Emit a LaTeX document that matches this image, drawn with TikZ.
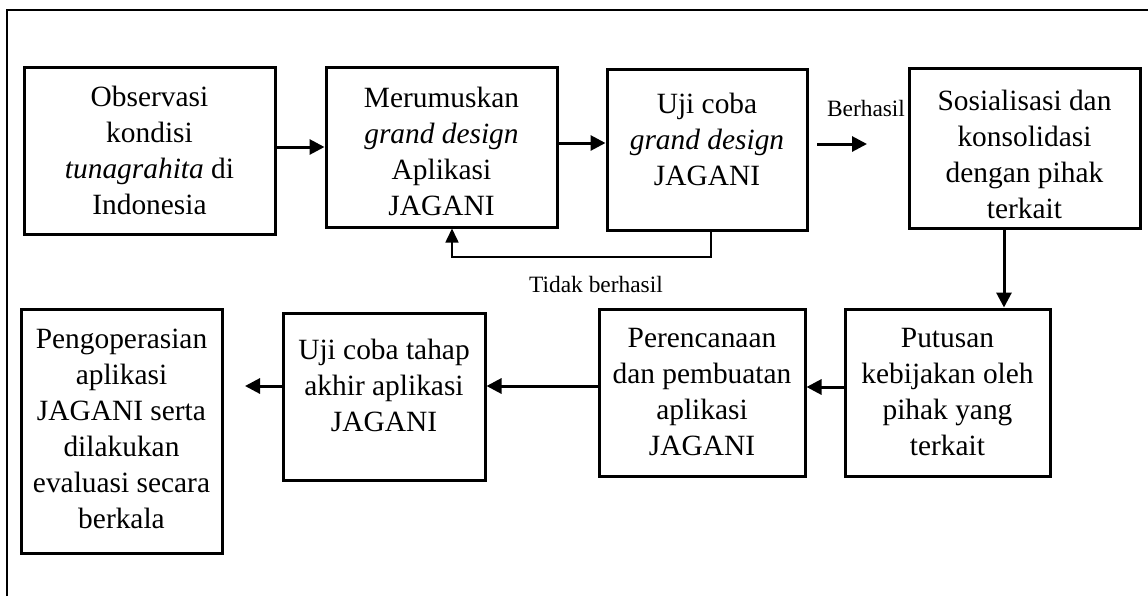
\documentclass[tikz,border=0pt]{standalone}
\usepackage{fontspec}
\setmainfont{Liberation Serif}
\usetikzlibrary{arrows.meta}
\begin{document}
\begin{tikzpicture}[x=0.5pt,y=-0.5pt,
 boxnode/.style={draw, line width=1.5pt, inner sep=0pt},
 txt/.style={align=center, font=\fontsize{14.7pt}{18pt}\selectfont, inner sep=0pt},
 lbl/.style={font=\fontsize{11.7pt}{14pt}\selectfont, inner sep=0pt},
 arr/.style={line width=1.5pt, -{Triangle[length=7.5pt,width=7.5pt]}},
 fb/.style={line width=0.8pt, -{Triangle[length=7pt,width=6.5pt]}},
 frame/.style={line width=1.2pt}]
\useasboundingbox (0,0) rectangle (1148,596);
\draw[frame] (7,596) -- (7,10) -- (1148,10);

% boxes
\node[boxnode, minimum width=125.5pt, minimum height=83.5pt] (b1) at (149.5,150.5) {};
\node[boxnode, minimum width=115.5pt, minimum height=80pt] (b2) at (441.5,147) {};
\node[boxnode, minimum width=100pt, minimum height=80.5pt] (b3) at (707,149.5) {};
\node[boxnode, minimum width=115.5pt, minimum height=80pt] (b4) at (1024.5,148) {};
\node[boxnode, minimum width=102.5pt, minimum height=83.5pt] (b5) at (947.5,392.5) {};
\node[boxnode, minimum width=103pt, minimum height=83.5pt] (b6) at (702,392.5) {};
\node[boxnode, minimum width=101pt, minimum height=83.5pt] (b7) at (384,396.5) {};
\node[boxnode, minimum width=100.5pt, minimum height=122pt] (b8) at (121.5,431) {};

% texts
\node[txt] (t1) at (149.5,150.5) {Observasi\\kondisi\\\textit{tunagrahita} di\\Indonesia};
\node[txt] (t2) at (441.5,151) {Merumuskan\\\textit{grand design}\\Aplikasi\\JAGANI};
\node[txt] (t3) at (707,139) {Uji coba\\\textit{grand design}\\JAGANI};
\node[txt] (t4) at (1024.5,154) {Sosialisasi dan\\konsolidasi\\dengan pihak\\terkait};
\node[txt] (t5) at (947.5,392) {Putusan\\kebijakan oleh\\pihak yang\\terkait};
\node[txt] (t6) at (702,392.5) {Perencanaan\\dan pembuatan\\aplikasi\\JAGANI};
\node[txt] (t7) at (384,385) {Uji coba tahap\\akhir aplikasi\\JAGANI};
\node[txt] (t8) at (121.5,428.5) {Pengoperasian\\aplikasi\\JAGANI serta\\dilakukan\\evaluasi secara\\berkala};

% labels
\node[lbl] (berhasil) at (866,108) {Berhasil};
\node[lbl] (tidak) at (596,284) {Tidak berhasil};

% helper coordinates
\coordinate (y143) at (0,143);
\coordinate (bs) at (817,144);
\coordinate (be) at (867,144);
\coordinate (x1004) at (1004,0);
\coordinate (y387) at (0,387);
\coordinate (y386) at (0,386);
\coordinate (e8) at (245,386);
\coordinate (x711) at (711,0);
\coordinate (x452) at (452,0);
\coordinate (fbc) at (452,257);

% connectors
\draw[arr] (b1.east |- b2.west) -- (b2.west);
\draw[arr] (b2.east |- y143) -- (b3.west |- y143);
\draw[arr] (bs) -- (be);
\draw[arr] (b4.south -| x1004) -- (b5.north -| x1004);
\draw[arr] (b5.west |- y387) -- (b6.east |- y387);
\draw[arr] (b6.west |- y386) -- (b7.east |- y386);
\draw[arr] (b7.west |- e8) -- (e8);
\draw[fb] (b3.south -| x711) |- (fbc) -- (b2.south -| x452);
\end{tikzpicture}
\end{document}
